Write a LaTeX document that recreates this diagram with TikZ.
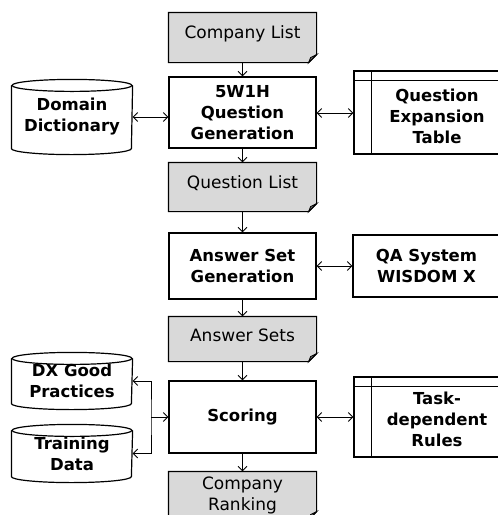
\documentclass[tikz,border=0pt]{standalone}
\usepackage{fontspec}
\setmainfont{DejaVu Sans}
\usetikzlibrary{arrows.meta,calc}
\definecolor{docgray}{RGB}{217,217,217}
\definecolor{foldgray}{RGB}{110,110,110}

% document shape with a folded lower right corner
\newcommand\docframe[1]{%
  \filldraw[fill=docgray] (#1.north west) -- (#1.north east) -- ([yshift=8pt]#1.south east)
    -- ([xshift=-8pt]#1.south east) -- (#1.south west) -- cycle;
  \filldraw[fill=foldgray, line width=0.8pt] ([yshift=8pt]#1.south east)
    -- ([xshift=-6pt,yshift=5pt]#1.south east) -- ([xshift=-8pt]#1.south east) -- cycle;}

% database drum
\newcommand\drum[1]{%
  \draw ([yshift=-6pt]#1.north west) -- ([yshift=6pt]#1.south west)
    arc[start angle=180,end angle=360,x radius=60pt,y radius=6pt]
    -- ([yshift=-6pt]#1.north east);
  \draw ([yshift=-6pt]#1.north) ellipse[x radius=60pt,y radius=6pt];}

% table with header row and index column
\newcommand\tableframe[1]{%
  \draw ([yshift=-10pt]#1.north west) -- ([yshift=-10pt]#1.north east);
  \draw ([xshift=18pt]#1.north west) -- ([xshift=18pt]#1.south west);}

\begin{document}
\begin{tikzpicture}[x=1pt,y=-1pt, line width=1.2pt,
  >={Straight Barb[length=4.5pt,width=9pt]},
  link/.style={line width=0.9pt},
  every node/.style={inner sep=0pt, align=center},
  procbox/.style={draw, minimum width=147pt, font=\bfseries\fontsize{16.5}{21}\selectfont},
  docbox/.style={minimum width=147pt},
  doclabel/.style={font=\fontsize{17}{21}\selectfont},
  drumbox/.style={minimum width=120pt, font=\bfseries\fontsize{16.5}{21}\selectfont},
  tablebox/.style={draw, minimum width=148pt},
  tabletext/.style={font=\bfseries\fontsize{16.5}{21}\selectfont}
]
\useasboundingbox (0,0) rectangle (498,515);

% main column
\node[docbox, minimum height=49pt] (cl) at (242.5,37.5) {};
\docframe{cl}
\node[doclabel] (cl-txt) at ([yshift=4pt]cl.center) {Company List};

\node[procbox, minimum height=71pt] (qg) at (242.5,112.5) {5W1H\\Question\\Generation};

\node[docbox, minimum height=48pt] (ql) at (242.5,187) {};
\docframe{ql}
\node[doclabel] (ql-txt) at ([yshift=4pt]ql.center) {Question List};

\node[procbox, minimum height=66pt] (asg) at (242.5,266) {Answer Set\\Generation};

\node[docbox, minimum height=44pt] (as) at (242.5,339) {};
\docframe{as}
\node[doclabel] (as-txt) at ([yshift=4pt]as.center) {Answer Sets};

\node[procbox, minimum height=72pt] (sc) at (242.5,417) {Scoring};

\node[docbox, minimum height=47pt] (cr) at (242.5,495.5) {};
\docframe{cr}
\node[doclabel] (cr-txt) at (242.5,495) {Company\\Ranking};

% left column: databases
\node[drumbox, minimum height=74pt] (dd) at (72,117) {Domain\\Dictionary};
\drum{dd}
\node[drumbox, minimum height=56pt] (dx) at (72,381) {DX Good\\Practices};
\drum{dx}
\node[drumbox, minimum height=57pt] (td) at (72,453.5) {Training\\Data};
\drum{td}

% right column
\node[tablebox, minimum height=83pt] (qet) at (428,112.5) {};
\tableframe{qet}
\node[tabletext] (qet-txt) at (437,116) {Question\\Expansion\\Table};

\node[procbox, minimum height=62pt] (qa) at (426.5,266) {QA System\\WISDOM X};

\node[tablebox, minimum height=80pt] (tr) at (428,417) {};
\tableframe{tr}
\node[tabletext] (tr-txt) at (437,419) {Task-\\dependent\\Rules};

% flow
\draw[link,->] (cl) -- (qg);
\draw[link,->] (qg) -- (ql);
\draw[link,->] (ql) -- (asg);
\draw[link,->] (asg) -- (as);
\draw[link,->] (as) -- (sc);
\draw[link,->] (sc) -- (cr);

% lookups
\draw[link,<->] (dd.east) -- (dd.east -| qg.west);
\draw[link,<->] (qg.east |- 0,113) -- (qet.west |- 0,113);
\draw[link,<->] (asg) -- (qa);
\draw[link,<->] (sc) -- (tr);
\coordinate (j) at (151,417);
\draw[link,<->] (dx.east) -| (j) |- (td.east);
\draw[link,->] (j) -- (sc.west);
\end{tikzpicture}
\end{document}
